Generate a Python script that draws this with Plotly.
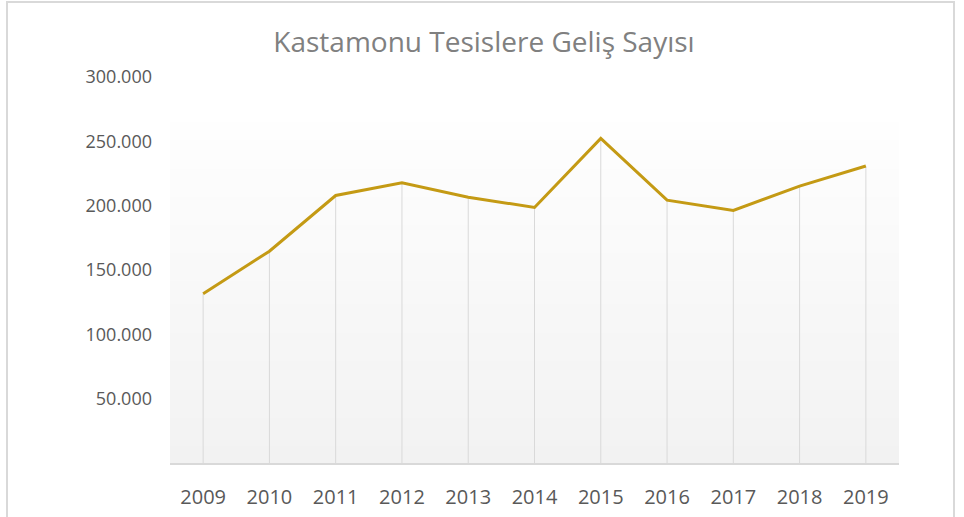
import plotly.graph_objects as go

years = ["2009", "2010", "2011", "2012", "2013", "2014", "2015", "2016", "2017", "2018", "2019"]
values = [131600, 164600, 207900, 217800, 206600, 198600, 252300, 204300, 196300, 215200, 230800]
y_ticks = [50000, 100000, 150000, 200000, 250000, 300000]
y_tick_labels = ["50.000", "100.000", "150.000", "200.000", "250.000", "300.000"]
title_text = "Kastamonu Tesislere Geliş Sayısı"

W, H = 964, 517
m_l, m_r, m_t, m_b = 170, 65, 77, 54

fig = go.Figure()

# drop lines from points to axis
fig.add_trace(go.Scatter(
    x=years, y=values, mode="markers",
    marker=dict(size=0.1, color="rgba(0,0,0,0)"),
    error_y=dict(type="data", symmetric=False, array=[0] * len(values),
                 arrayminus=values, color="#d9d9d9", thickness=1, width=0),
    hoverinfo="skip", showlegend=False,
))

fig.add_trace(go.Scatter(
    x=years, y=values, mode="lines",
    line=dict(color="#C49A14", width=3),
    showlegend=False,
))

# gradient plot-area background
shapes = []
n = 60
grad_top = (463 - 123) / (H - m_t - m_b)
for i in range(n):
    t = i / (n - 1)
    c = int(round(242 + (254 - 242) * t))
    shapes.append(dict(
        type="rect", xref="paper", yref="paper", layer="below",
        x0=0, x1=1, y0=grad_top * i / n, y1=grad_top * (i + 1) / n + 0.002,
        fillcolor=f"rgb({c},{c},{c})", line=dict(width=0),
    ))
# chart border
shapes.append(dict(
    type="rect", xref="paper", yref="paper", layer="below",
    x0=-(m_l - 7) / (W - m_l - m_r), x1=1 + (954 - (W - m_r)) / (W - m_l - m_r),
    y0=-(m_b + 20) / (H - m_t - m_b), y1=1 + (m_t - 2) / (H - m_t - m_b),
    line=dict(color="#d9d9d9", width=2), fillcolor="rgba(0,0,0,0)",
))

fig.update_layout(
    width=W, height=H,
    margin=dict(l=m_l, r=m_r, t=m_t, b=m_b, autoexpand=False),
    paper_bgcolor="white", plot_bgcolor="rgba(0,0,0,0)",
    shapes=shapes,
    title=dict(text=title_text, x=484 / W, xref="container", xanchor="center",
               y=1 - 42 / H, yref="container", yanchor="middle",
               font=dict(family="Open Sans", size=28, color="#808080")),
    font=dict(family="Open Sans", color="#595959"),
    xaxis=dict(
        type="category", range=[-0.5, len(years) - 0.5],
        showgrid=False, showline=True, linecolor="#d9d9d9", linewidth=2,
        ticks="", tickfont=dict(size=20, color="#595959"),
        ticklabelstandoff=15, zeroline=False, fixedrange=True, automargin=False,
    ),
    yaxis=dict(
        range=[0, 300000], tickvals=y_ticks, ticktext=y_tick_labels,
        showgrid=False, showline=False, zeroline=False, ticks="",
        tickfont=dict(size=18, color="#595959"),
        ticklabelstandoff=17, fixedrange=True, automargin=False,
    ),
)

fig.write_html("out.html")
